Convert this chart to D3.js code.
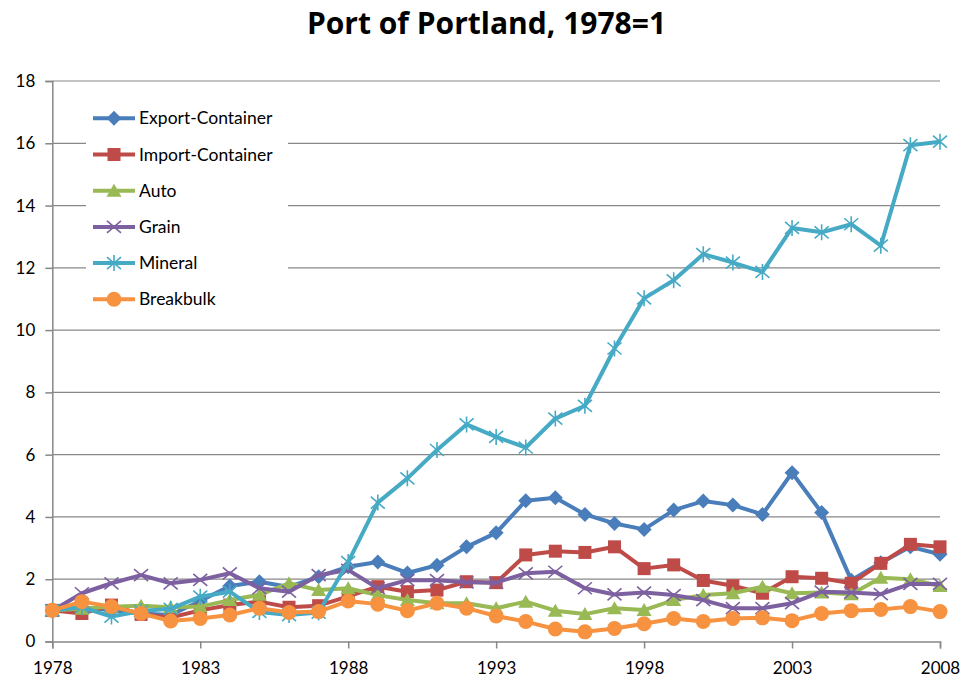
<!DOCTYPE html>
<html>
<head>
<meta charset="utf-8">
<script src="https://cdn.jsdelivr.net/npm/d3@7"></script>
<style>
  body { margin: 0; background: #fff; }
  svg { font-family: Lato, "Open Sans", sans-serif; }
</style>
</head>
<body>
<svg id="chart" width="962" height="687"></svg>
<script>
const years = d3.range(1978, 2009);
const yTicks = [0, 2, 4, 6, 8, 10, 12, 14, 16, 18];
const xTicks = [1978, 1983, 1988, 1993, 1998, 2003, 2008];

const exportContainer = [1.0, 1.1, 1.0, 0.9, 0.85, 1.3, 1.78, 1.92, 1.75, 2.08, 2.4, 2.55, 2.2, 2.45, 3.04, 3.49, 4.52, 4.62, 4.08, 3.79, 3.6, 4.22, 4.51, 4.38, 4.08, 5.42, 4.14, 1.97, 2.53, 3.04, 2.8];
const importContainer = [1.0, 0.9, 1.17, 0.87, 0.77, 1.0, 1.17, 1.28, 1.1, 1.15, 1.45, 1.76, 1.6, 1.65, 1.92, 1.89, 2.78, 2.9, 2.86, 3.04, 2.34, 2.46, 1.96, 1.79, 1.55, 2.08, 2.03, 1.87, 2.51, 3.12, 3.04];
const auto = [1.0, 1.05, 1.12, 1.15, 1.1, 1.12, 1.33, 1.5, 1.87, 1.65, 1.71, 1.49, 1.33, 1.23, 1.23, 1.07, 1.28, 0.99, 0.88, 1.07, 1.01, 1.33, 1.49, 1.55, 1.76, 1.55, 1.57, 1.52, 2.05, 2.0, 1.78];
const grain = [0.99, 1.55, 1.87, 2.13, 1.87, 1.98, 2.19, 1.71, 1.6, 2.13, 2.3, 1.71, 1.97, 1.97, 1.9, 1.89, 2.19, 2.24, 1.71, 1.51, 1.57, 1.49, 1.33, 1.07, 1.07, 1.23, 1.6, 1.57, 1.52, 1.85, 1.85];
const mineral = [1.0, 1.1, 0.8, 0.98, 1.05, 1.44, 1.6, 0.95, 0.85, 0.93, 2.55, 4.46, 5.24, 6.15, 6.97, 6.57, 6.23, 7.16, 7.57, 9.41, 11.02, 11.6, 12.44, 12.17, 11.87, 13.28, 13.14, 13.4, 12.71, 15.94, 16.05];
const breakbulk = [1.0, 1.28, 1.12, 0.9, 0.66, 0.74, 0.85, 1.07, 0.93, 0.96, 1.3, 1.2, 0.99, 1.23, 1.07, 0.82, 0.64, 0.4, 0.31, 0.42, 0.57, 0.74, 0.64, 0.74, 0.76, 0.67, 0.9, 0.99, 1.03, 1.12, 0.96];

const series = [
  { name: 'Export-Container', values: exportContainer, color: '#4A7EBB', marker: 'diamond' },
  { name: 'Import-Container', values: importContainer, color: '#BE4B48', marker: 'square' },
  { name: 'Auto', values: auto, color: '#98B954', marker: 'triangle' },
  { name: 'Grain', values: grain, color: '#7D60A0', marker: 'x' },
  { name: 'Mineral', values: mineral, color: '#46AAC5', marker: 'star' },
  { name: 'Breakbulk', values: breakbulk, color: '#F69240', marker: 'circle' }
];

const svg = d3.select('#chart');
const x = d3.scaleLinear().domain([1978, 2008]).range([52.3, 940]);
const y = d3.scaleLinear().domain([0, 18]).range([641.5, 81]);

svg.append('text')
  .attr('x', 486.5).attr('y', 34)
  .attr('text-anchor', 'middle')
  .attr('font-family', '"Open Sans", Lato, sans-serif')
  .attr('font-size', 30).attr('font-weight', 700)
  .text('Port of Portland, 1978=1');

// gridlines
svg.append('g')
  .selectAll('line')
  .data(yTicks.filter(d => d > 0))
  .join('line')
  .attr('x1', x(1978)).attr('x2', x(2008))
  .attr('y1', d => y(d)).attr('y2', d => y(d))
  .attr('stroke', '#888').attr('stroke-width', 1.2);

const yAxis = svg.append('g')
  .attr('transform', `translate(${x(1978)},0)`)
  .call(d3.axisLeft(y).tickValues(yTicks).tickSize(7).tickPadding(10).tickFormat(d3.format('d')));

const xAxis = svg.append('g')
  .attr('transform', `translate(0,${y(0)})`)
  .call(d3.axisBottom(x).tickValues(xTicks).tickSize(7).tickPadding(13).tickFormat(d3.format('d')));

[xAxis, yAxis].forEach(a => {
  a.selectAll('path, line').attr('stroke', '#888').attr('stroke-width', 1.5);
  a.selectAll('text').attr('font-size', 17).attr('fill', '#000').attr('font-family', 'Lato, "Open Sans", sans-serif');
});

function drawMarker(g, type, color) {
  if (type === 'diamond') {
    g.append('path').attr('d', 'M0,-7.5L7.5,0L0,7.5L-7.5,0Z').attr('fill', color);
  } else if (type === 'square') {
    g.append('rect').attr('x', -6.5).attr('y', -6.5).attr('width', 13).attr('height', 13).attr('fill', color);
  } else if (type === 'triangle') {
    g.append('path').attr('d', 'M0,-7L7.5,6L-7.5,6Z').attr('fill', color);
  } else if (type === 'circle') {
    g.append('circle').attr('r', 7.5).attr('fill', color);
  } else if (type === 'x') {
    g.append('path').attr('d', 'M-7,-6L7,6M-7,6L7,-6').attr('stroke', color).attr('stroke-width', 1.6);
  } else if (type === 'star') {
    g.append('path').attr('d', 'M-7,-6L7,6M-7,6L7,-6M0,-8L0,8').attr('stroke', color).attr('stroke-width', 1.6);
  }
}

const line = d3.line()
  .x((d, i) => x(years[i]))
  .y(d => y(d));

const plot = svg.append('g');
series.forEach(s => {
  const g = plot.append('g');
  g.append('path')
    .attr('d', line(s.values))
    .attr('fill', 'none')
    .attr('stroke', s.color)
    .attr('stroke-width', 4)
    .attr('stroke-linejoin', 'round');
  s.values.forEach((v, i) => {
    const m = g.append('g').attr('transform', `translate(${x(years[i])},${y(v)})`);
    drawMarker(m, s.marker, s.color);
  });
});

// legend
const legend = svg.append('g');
legend.append('rect')
  .attr('x', 86).attr('y', 100).attr('width', 202).attr('height', 217)
  .attr('fill', '#fff');
series.forEach((s, i) => {
  const ly = 118.3 + i * 36.2;
  const row = legend.append('g').attr('transform', `translate(0,${ly})`);
  row.append('line')
    .attr('x1', 93).attr('x2', 135)
    .attr('stroke', s.color).attr('stroke-width', 4);
  const m = row.append('g').attr('transform', 'translate(114,0)');
  drawMarker(m, s.marker, s.color);
  row.append('text')
    .attr('x', 139).attr('y', 0).attr('dy', '0.35em')
    .attr('font-size', 17.5)
    .text(s.name);
});
</script>
</body>
</html>
